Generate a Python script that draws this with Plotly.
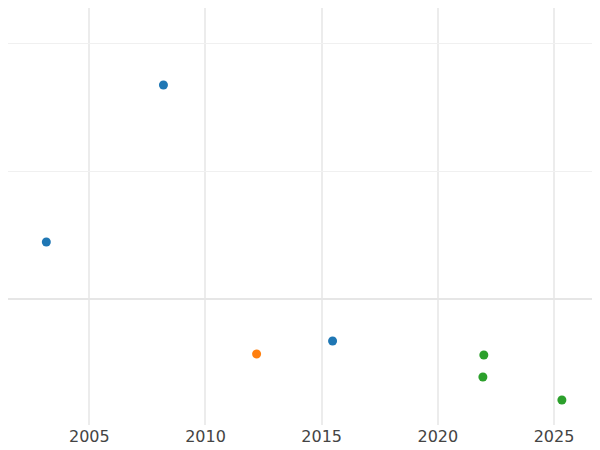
import plotly.graph_objects as go

groups = ["A", "B", "C"]
colors = ["#1f77b4", "#ff7f0e", "#2ca02c"]
x_a = [2003.15, 2008.19, 2015.47]
y_a = [0.447, 1.678, -0.329]
x_b = [2012.2]
y_b = [-0.431]
x_c = [2021.98, 2021.94, 2025.34]
y_c = [-0.439, -0.612, -0.792]

fig = go.Figure()
for name, xs, ys, c in zip(groups, [x_a, x_b, x_c], [y_a, y_b, y_c], colors):
    fig.add_trace(go.Scatter(x=xs, y=ys, mode="markers", name=name,
                             marker=dict(color=c, size=9)))

fig.update_layout(
    width=592, height=442, showlegend=False,
    margin=dict(l=0, r=0, t=0, b=25),
    plot_bgcolor="white", paper_bgcolor="white",
    font=dict(family="DejaVu Sans", size=16, color="#444"),
    xaxis=dict(range=[2001.50, 2026.98], tickvals=[2005, 2010, 2015, 2020, 2025],
               gridcolor="#ececec", gridwidth=1.5, zeroline=False, showline=False, ticks=""),
    yaxis=dict(range=[-0.988, 2.282], tickvals=[0, 1, 2], showticklabels=False,
               gridcolor="#f0f0f0", zeroline=True, zerolinecolor="#e6e6e6", zerolinewidth=2),
)
fig.write_html("out.html")
